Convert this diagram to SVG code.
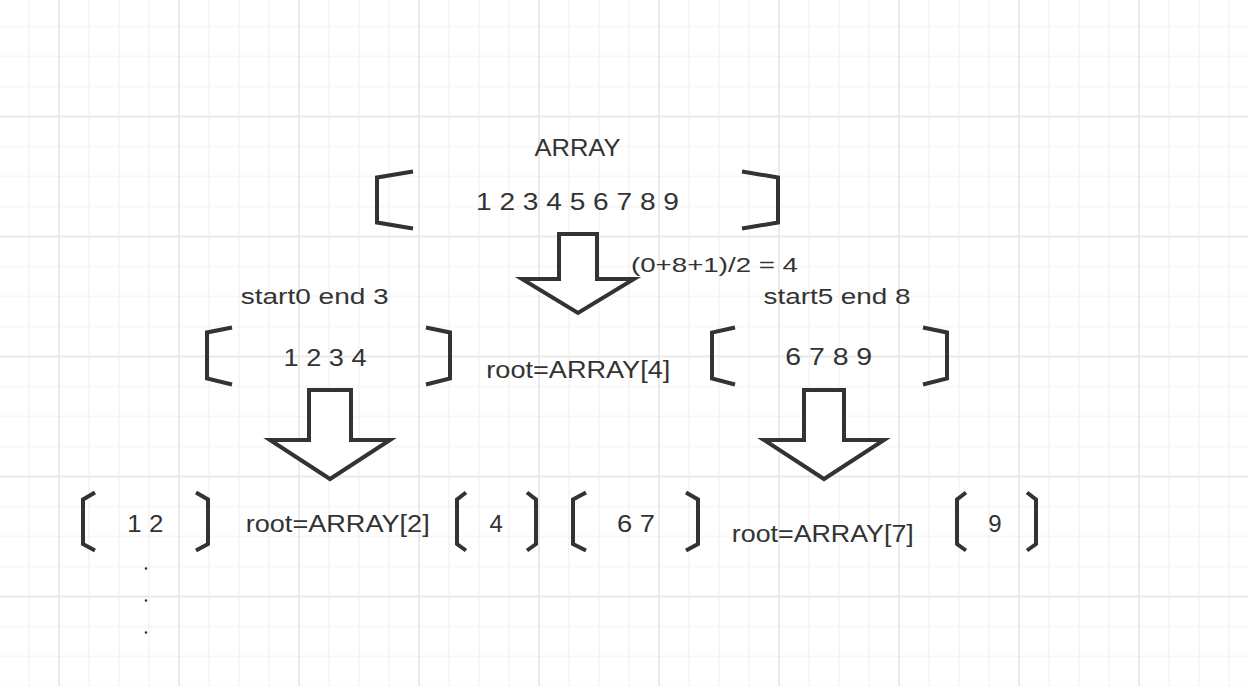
<svg xmlns="http://www.w3.org/2000/svg" width="1248" height="686" viewBox="0 0 1248 686">
  <style>
    .br { fill: none; stroke: #333333; stroke-width: 4; stroke-linejoin: miter; stroke-linecap: butt; }
    .arrow { fill: #ffffff; stroke: #333333; stroke-width: 4; stroke-linejoin: miter; }
    .t { font-family: "Liberation Sans", Arial, Helvetica, sans-serif; fill: #333333; text-anchor: middle; }
    .s24 { font-size: 24px; }
    .s23 { font-size: 23px; }
    .s22 { font-size: 22px; }
    .s21 { font-size: 21px; }
    .dot { fill: #333333; }
  </style>
  <defs>
    <pattern id="minorGrid" width="30" height="30" patternUnits="userSpaceOnUse" x="14" y="11.5">
      <path d="M15 0 V30 M0 15 H30" fill="none" stroke="#f0f0f0" stroke-width="1.2"/>
    </pattern>
    <pattern id="majorGrid" width="120" height="120" patternUnits="userSpaceOnUse" x="-1" y="56.5">
      <path d="M60 0 V120 M0 60 H120" fill="none" stroke="#e6e6e6" stroke-width="1.5"/>
    </pattern>
  </defs>

  <g id="background">
    <rect x="0" y="0" width="1248" height="686" fill="#ffffff"/>
    <rect x="0" y="0" width="1248" height="686" fill="url(#minorGrid)"/>
    <rect x="0" y="0" width="1248" height="686" fill="url(#majorGrid)"/>
  </g>

  <g id="connectors">
    <path class="arrow" d="M559 234 H597 V279 H634 L578 313 L522 279 H559 Z"/>
    <path class="arrow" d="M309 390 H351 V440 H390 L330 479 L270 440 H309 Z"/>
    <path class="arrow" d="M804 390 H844 V440 H884 L824 479 L764 440 H804 Z"/>
  </g>

  <g id="label-array">
    <text class="t s24" x="577.5" y="156" textLength="86" lengthAdjust="spacingAndGlyphs">ARRAY</text>
  </g>

  <g id="node-root-array">
    <path class="br" d="M413 171.5 L377 177.5 L377 222.5 L413 228.5"/>
    <path class="br" d="M742 171.5 L778 177.5 L778 222.5 L742 228.5"/>
    <text class="t s24" x="577.5" y="210" textLength="203" lengthAdjust="spacingAndGlyphs">1 2 3 4 5 6 7 8 9</text>
  </g>

  <g id="label-mid">
    <text class="t s21" x="714.5" y="271.5" textLength="167" lengthAdjust="spacingAndGlyphs">(0+8+1)/2 = 4</text>
  </g>

  <g id="label-left-range">
    <text class="t s22" x="314.7" y="304" textLength="148" lengthAdjust="spacingAndGlyphs">start0 end 3</text>
  </g>

  <g id="label-right-range">
    <text class="t s22" x="837" y="303.5" textLength="147" lengthAdjust="spacingAndGlyphs">start5 end 8</text>
  </g>

  <g id="node-left-1234">
    <path class="br" d="M232 327.5 L207 332.5 L207 378.5 L232 384.5"/>
    <path class="br" d="M426 327.5 L450 332.5 L450 378.5 L426 384.5"/>
    <text class="t s24" x="325" y="365.5" textLength="83" lengthAdjust="spacingAndGlyphs">1 2 3 4</text>
  </g>

  <g id="label-root4">
    <text class="t s23" x="578.3" y="378.3" textLength="184" lengthAdjust="spacingAndGlyphs">root=ARRAY[4]</text>
  </g>

  <g id="node-right-6789">
    <path class="br" d="M735 327.5 L712 332.5 L712 378.5 L735 384.5"/>
    <path class="br" d="M923 327.5 L947 332.5 L947 378.5 L923 384.5"/>
    <text class="t s24" x="828.7" y="365" textLength="87" lengthAdjust="spacingAndGlyphs">6 7 8 9</text>
  </g>

  <g id="node-12">
    <path class="br" d="M95 492.5 L83 499.5 L83 544 L95 550.5"/>
    <path class="br" d="M196 492.5 L208 499.5 L208 544 L196 550.5"/>
    <text class="t s24" x="145.3" y="532.3" textLength="36" lengthAdjust="spacingAndGlyphs">1 2</text>
  </g>

  <g id="label-root2">
    <text class="t s23" x="337.7" y="532.3" textLength="184" lengthAdjust="spacingAndGlyphs">root=ARRAY[2]</text>
  </g>

  <g id="node-4">
    <path class="br" d="M466 492.5 L457 499.5 L457 544 L466 550.5"/>
    <path class="br" d="M527 492.5 L536 499.5 L536 544 L527 550.5"/>
    <text class="t s24" x="496.2" y="532.3">4</text>
  </g>

  <g id="node-67">
    <path class="br" d="M586 492.5 L573 499.5 L573 544 L586 550.5"/>
    <path class="br" d="M686 492.5 L698 499.5 L698 544 L686 550.5"/>
    <text class="t s24" x="636" y="531.7" textLength="38" lengthAdjust="spacingAndGlyphs">6 7</text>
  </g>

  <g id="label-root7">
    <text class="t s23" x="822.8" y="541.7" textLength="182" lengthAdjust="spacingAndGlyphs">root=ARRAY[7]</text>
  </g>

  <g id="node-9">
    <path class="br" d="M966 492.5 L957 499.5 L957 544 L966 550.5"/>
    <path class="br" d="M1027 492.5 L1036 499.5 L1036 544 L1027 550.5"/>
    <text class="t s24" x="995" y="531.7">9</text>
  </g>

  <g id="ellipsis">
    <circle class="dot" cx="146" cy="568.5" r="1.3"/>
    <circle class="dot" cx="146" cy="600.5" r="1.3"/>
    <circle class="dot" cx="146" cy="632.5" r="1.3"/>
  </g>
</svg>
